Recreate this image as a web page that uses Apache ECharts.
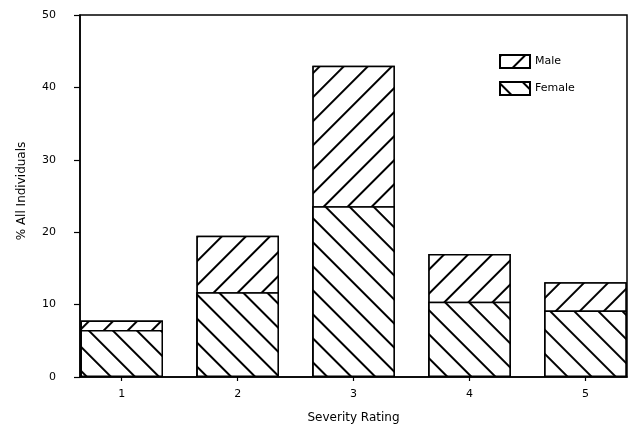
<!DOCTYPE html>
<html>
<head>
<meta charset="utf-8">
<script src="https://cdn.jsdelivr.net/npm/echarts@6/dist/echarts.min.js"></script>
<style>
html,body{margin:0;padding:0;background:#fff;}
#chart{width:631px;height:430px;}
</style>
</head>
<body>
<div id="chart"></div>
<script>
var categories = [1, 2, 3, 4, 5];
var femaleValues = [6.5, 11.7, 23.6, 10.4, 9.2];
var maleValues = [1.3, 7.8, 19.4, 6.6, 3.9];
var yTicks = [0, 10, 20, 30, 40, 50];

var FONT = '"DejaVu Sans", sans-serif';

// Male segment sits on top of the female segment: draw it as a bar reaching the total height,
// with the female bar drawn over its lower part.
var totalValues = femaleValues.map(function (f, i) { return +(f + maleValues[i]).toFixed(2); });

function pairs(vals) {
  return categories.map(function (c, i) { return [c, vals[i]]; });
}

var chart = echarts.init(document.getElementById('chart'), null, {renderer: 'canvas'});
chart.setOption({
  backgroundColor: '#fff',
  animation: false,
  grid: {
    left: 80, top: 15, width: 547, height: 362,
    show: true, borderColor: '#000', borderWidth: 1.5, backgroundColor: 'transparent'
  },
  legend: {
    orient: 'vertical',
    left: 494, top: 49,
    itemWidth: 30, itemHeight: 13, itemGap: 12,
    icon: 'rect',
    data: ['Male', 'Female'],
    textStyle: {fontFamily: FONT, fontSize: 11, color: '#000'}
  },
  xAxis: {
    type: 'value',
    min: 0.64, max: 5.358,
    splitLine: {show: false},
    axisLine: {show: true, lineStyle: {color: '#000', width: 1.5}},
    axisTick: {show: true, customValues: categories, length: 4, lineStyle: {color: '#000', width: 1.2}},
    axisLabel: {customValues: categories, margin: 12, fontFamily: FONT, fontSize: 11, color: '#000'},
    name: 'Severity Rating',
    nameLocation: 'middle',
    nameGap: 35,
    nameTextStyle: {fontFamily: FONT, fontSize: 12, color: '#000'}
  },
  yAxis: {
    type: 'value',
    min: 0, max: 50, interval: 10,
    splitLine: {show: false},
    axisLine: {show: true, lineStyle: {color: '#000', width: 1.5}},
    axisTick: {show: true, inside: false, length: 6, lineStyle: {color: '#000', width: 1.2}},
    axisLabel: {margin: 24, fontFamily: FONT, fontSize: 11, color: '#000'},
    name: '% All Individuals',
    nameLocation: 'middle',
    nameGap: 52,
    nameTextStyle: {fontFamily: FONT, fontSize: 12, color: '#000', padding: [0, 0, 0, 10]}
  },
  series: [
    {
      name: 'Male',
      type: 'bar',
      barWidth: 82.5,
      barGap: '-100%',
      z: 1,
      data: pairs(totalValues),
      itemStyle: {
        color: '#fff', borderColor: '#000', borderWidth: 1.5,
        decal: {symbol: 'rect', symbolSize: 1, color: '#000', backgroundColor: '#fff',
                dashArrayX: [1, 0], dashArrayY: [1.3, 14.2], rotation: -Math.PI / 4}
      }
    },
    {
      name: 'Female',
      type: 'bar',
      barWidth: 82.5,
      barGap: '-100%',
      z: 2,
      data: pairs(femaleValues),
      itemStyle: {
        color: '#fff', borderColor: '#000', borderWidth: 1.5,
        decal: {symbol: 'rect', symbolSize: 1, color: '#000', backgroundColor: '#fff',
                dashArrayX: [1, 0], dashArrayY: [1.3, 14.2], rotation: Math.PI / 4}
      }
    }
  ]
});
</script>
</body>
</html>
